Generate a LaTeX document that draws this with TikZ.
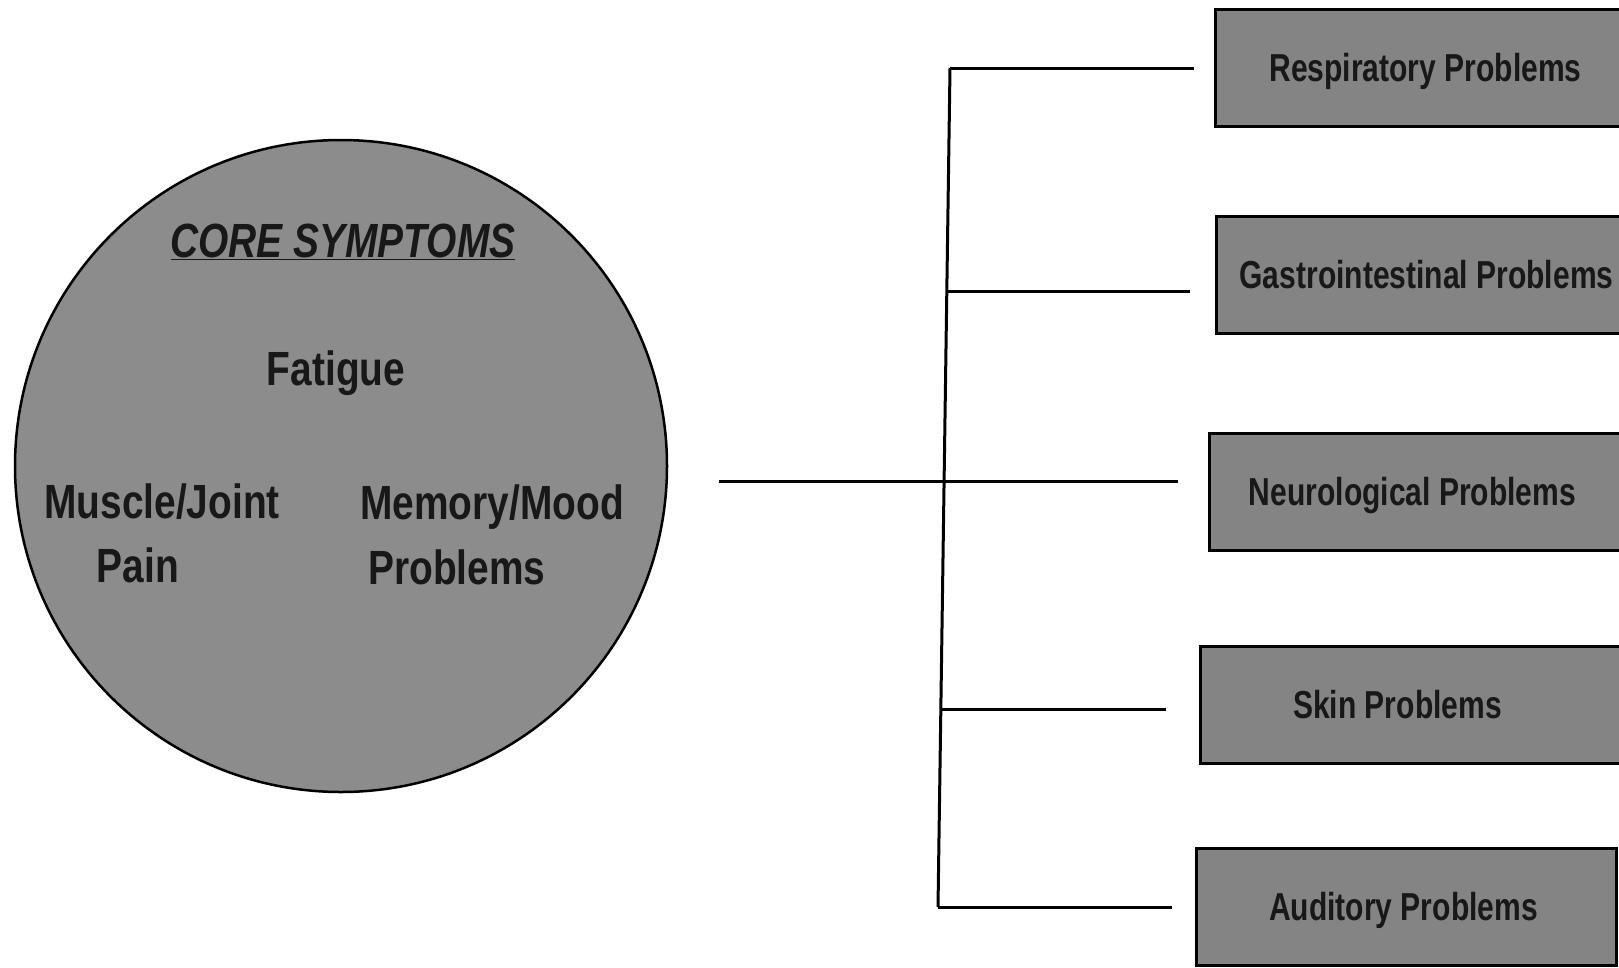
\documentclass[tikz,border=0pt]{standalone}
\usepackage{graphicx}
\usepackage{fontspec}
\setmainfont{Liberation Sans}
\usetikzlibrary{calc}
\definecolor{circfill}{HTML}{8C8C8C}
\definecolor{boxfill}{HTML}{848484}
\definecolor{inkc}{HTML}{181818}
\newcommand\sqzc[1]{\scalebox{0.81}[1]{#1}}
\newcommand\sqzb[1]{\scalebox{0.77}[1]{#1}}
\tikzset{
  core/.style={circle, draw=black, line width=2.5pt, fill=circfill, minimum size=652pt, inner sep=0pt},
  corelabel/.style={anchor=base, inner sep=0pt, text=inkc, font=\fontsize{48}{52}\selectfont\bfseries},
  probbox/.style={rectangle, draw=black, line width=3pt, fill=boxfill, minimum width=420pt,
    minimum height=117pt, anchor=west, inner sep=0pt, text=inkc, text height=26pt, text depth=0pt,
    font=\fontsize{39}{42}\selectfont\bfseries},
  link/.style={line width=3pt, draw=black},
}
\begin{document}
\begin{tikzpicture}[x=1pt,y=-1pt]
\useasboundingbox (0,0) rectangle (1619,967);
\clip (0,0) rectangle (1619,967);
\fill[white] (0,0) rectangle (1619,967);

% core circle
\node[core] (core) at (341,466) {};
\node[corelabel] (title) at (343,257) {\sqzc{\underline{\textit{CORE SYMPTOMS}}}};
\node[corelabel] (fatigue) at (336,385) {\sqzc{Fatigue}};
\node[corelabel] (muscle) at (162,518) {\sqzc{Muscle/Joint}};
\node[corelabel] (pain) at (138,582) {\sqzc{Pain}};
\node[corelabel] (memory) at (492,519) {\sqzc{Memory/Mood}};
\node[corelabel] (mprob) at (457,584) {\sqzc{Problems}};

% problem boxes
\node[probbox] (resp) at (1214,68) {\sqzb{Respiratory Problems}};
\node[probbox] (gastro) at (1215,275) {\sqzb{Gastrointestinal Problems}};
\node[probbox] (neuro) at (1208,492) {\sqzb{Neurological Problems}\hspace*{14pt}};
\node[probbox] (skin) at (1199,705) {\sqzb{Skin Problems}\hspace*{26pt}};
\node[probbox] (aud) at (1195,907) {\sqzb{Auditory Problems}\hspace*{6pt}};

% spine
\coordinate (s1) at (950,68);
\coordinate (s2) at (947,291);
\coordinate (s3) at (944,481);
\coordinate (s4) at (941,709);
\coordinate (s5) at (938,907);
\draw[link] (s1) -- (s5);

% branches
\draw[link, shorten >=20pt] (s1) -- (resp.west |- s1);
\draw[link, shorten >=25pt] (s2) -- (gastro.west |- s2);
\draw[link, shorten <=51pt, shorten >=30pt] (core.east |- s3) -- (neuro.west |- s3);
\draw[link, shorten >=33pt] (s4) -- (skin.west |- s4);
\draw[link, shorten >=23pt] (s5) -- (aud.west |- s5);
\end{tikzpicture}
\end{document}
